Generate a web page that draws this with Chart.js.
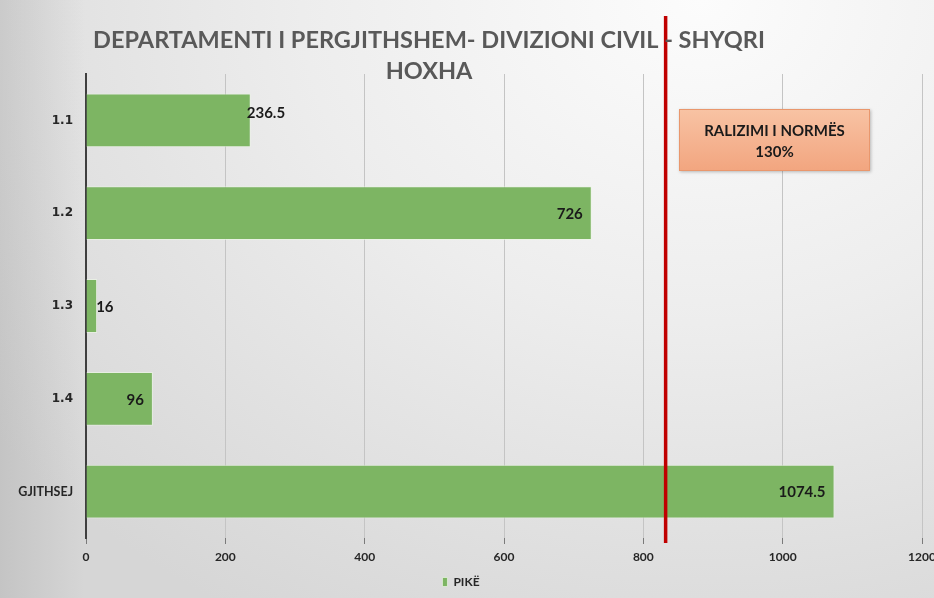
<!DOCTYPE html>
<html>
<head>
<meta charset="utf-8">
<script src="https://cdn.jsdelivr.net/npm/chart.js@4.4.0/dist/chart.umd.min.js"></script>
<style>
  html, body { margin: 0; padding: 0; }
  body {
    width: 934px; height: 598px; overflow: hidden;
    background:
      linear-gradient(to right, rgba(150,150,150,0.28) 0px, rgba(150,150,150,0) 85px),
      radial-gradient(ellipse 95% 120% at 75% 0%, #fcfcfc 0%, #ededed 45%, #d6d6d6 100%);
  }
  #wrap { position: relative; width: 934px; height: 598px; }
</style>
</head>
<body>
<div id="wrap"><canvas id="chart" width="934" height="598"></canvas></div>
<script>
// chart data
const categories = ['1.1', '1.2', '1.3', '1.4', 'GJITHSEJ'];
const points = [236.5, 726, 16, 96, 1074.5];
const seriesName = 'PIKË';
const xTicks = [0, 200, 400, 600, 800, 1000, 1200];
const normValue = 832;            // red line (norm)
const titleLines = ['DEPARTAMENTI I PERGJITHSHEM- DIVIZIONI CIVIL - SHYQRI', 'HOXHA'];
const noteLines = ['RALIZIMI I NORMËS', '130%'];

// where each value label sits relative to its bar
const labelSpot = ['over', 'inside', 'outside', 'inside', 'inside'];

const green = '#7db563';

// title, red norm line, note box, value labels
const extras = {
    id: 'extras',
    afterDatasetsDraw(chart) {
        const ctx = chart.ctx;
        const x = chart.scales.x;

        // red line
        const rx = x.getPixelForValue(normValue);
        ctx.save();
        ctx.strokeStyle = '#c00000';
        ctx.lineWidth = 3.5;
        ctx.beginPath();
        ctx.moveTo(rx, 16);
        ctx.lineTo(rx, 543);
        ctx.stroke();
        ctx.restore();

        // value labels
        const bars = chart.getDatasetMeta(0).data;
        ctx.save();
        ctx.font = 'bold 15px Lato';
        ctx.fillStyle = '#1a1a1a';
        ctx.textBaseline = 'middle';
        bars.forEach((bar, i) => {
            const txt = String(points[i]);
            if (labelSpot[i] == 'inside') {
                ctx.textAlign = 'right';
                ctx.fillText(txt, bar.x - 9, bar.y + 1);
            } else if (labelSpot[i] == 'outside') {
                ctx.textAlign = 'left';
                ctx.fillText(txt, bar.x - 1, bar.y + 1);
            } else {
                ctx.textAlign = 'left';
                ctx.fillText(txt, bar.x - 4, bar.y - 7);
            }
        });
        ctx.restore();

        // note box
        ctx.save();
        const bx = 679, by = 109, bw = 191, bh = 62;
        ctx.shadowColor = 'rgba(0,0,0,0.25)';
        ctx.shadowBlur = 3;
        ctx.shadowOffsetX = 1;
        ctx.shadowOffsetY = 1;
        const g = ctx.createLinearGradient(0, by, 0, by + bh);
        g.addColorStop(0, '#f8c3a4');
        g.addColorStop(1, '#f2a57f');
        ctx.fillStyle = g;
        ctx.fillRect(bx, by, bw, bh);
        ctx.shadowColor = 'transparent';
        ctx.strokeStyle = '#e9976d';
        ctx.lineWidth = 1;
        ctx.strokeRect(bx + 0.5, by + 0.5, bw - 1, bh - 1);
        ctx.fillStyle = '#1a1a1a';
        ctx.font = 'bold 15px Lato';
        ctx.textAlign = 'center';
        ctx.textBaseline = 'middle';
        ctx.fillText(noteLines[0], bx + bw / 2, 131);
        ctx.fillText(noteLines[1], bx + bw / 2, 152);
        ctx.restore();

        // title
        ctx.save();
        ctx.fillStyle = '#595959';
        ctx.font = 'bold 23.5px Lato';
        ctx.textAlign = 'center';
        ctx.textBaseline = 'middle';
        ctx.fillText(titleLines[0], 429, 40);
        ctx.fillText(titleLines[1], 429, 71);
        ctx.restore();
    }
};

new Chart(document.getElementById('chart'), {
    type: 'bar',
    data: {
        labels: categories,
        datasets: [{
            label: seriesName,
            data: points,
            backgroundColor: green,
            borderColor: 'rgba(235,245,228,0.7)',
            borderWidth: 1,
            categoryPercentage: 1,
            barPercentage: 0.58
        }]
    },
    options: {
        indexAxis: 'y',
        responsive: false,
        animation: false,
        layout: { padding: { top: 74, right: 12, left: 0, bottom: 0 } },
        scales: {
            x: {
                min: 0,
                max: 1200,
                afterBuildTicks: s => { s.ticks = xTicks.map(v => ({ value: v })); },
                afterFit: s => { s.paddingRight = 0; s.height = 32; },
                grid: {
                    color: '#c4c4c4',
                    lineWidth: 1,
                    tickColor: '#7a7a7a',
                    tickLength: 6
                },
                border: { display: false },
                ticks: {
                    color: '#262626',
                    callback: v => String(v),
                    font: { family: 'Lato', size: 12, weight: 'bold' },
                    padding: 6
                }
            },
            y: {
                afterFit: s => { s.width = 86; },
                grid: { display: false, drawTicks: false },
                border: { display: true, color: '#3f3f3f', width: 2 },
                ticks: {
                    color: '#262626',
                    padding: 13,
                    font: ctx => (ctx.tick && ctx.tick.label == 'GJITHSEJ')
                        ? { family: 'Lato', size: 12.5, weight: 'bold' }
                        : { family: 'DejaVu Sans', size: 12, weight: 'bold' }
                }
            }
        },
        plugins: {
            title: { display: false },
            tooltip: { enabled: false },
            legend: {
                position: 'bottom',
                labels: {
                    color: '#262626',
                    boxWidth: 5,
                    boxHeight: 9,
                    padding: 6,
                    font: { family: 'Lato', size: 12, weight: 'bold' }
                }
            }
        }
    },
    plugins: [extras]
});
</script>
</body>
</html>
